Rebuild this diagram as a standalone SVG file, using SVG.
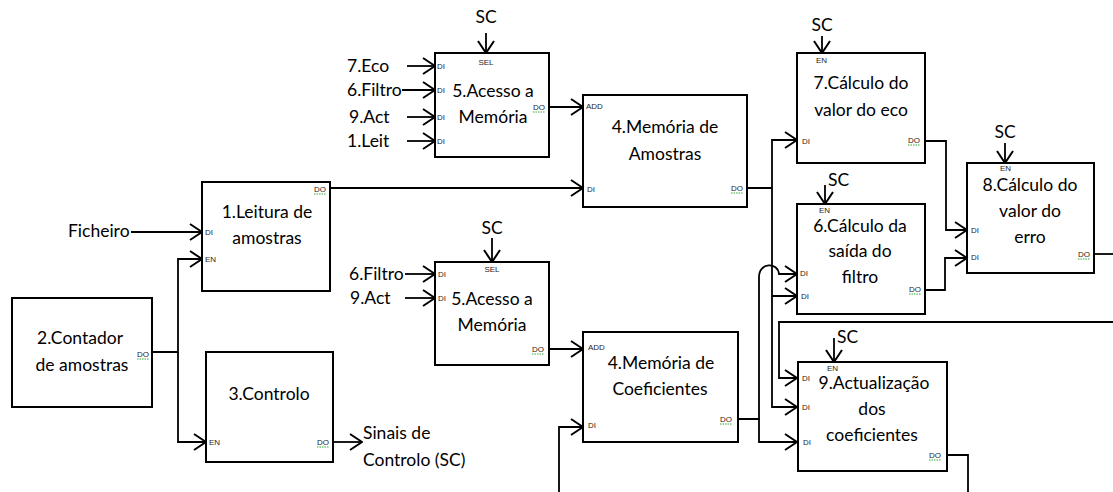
<svg xmlns="http://www.w3.org/2000/svg" width="1113" height="492" viewBox="0 0 1113 492">
<style>
.box{fill:#fff;stroke:#000;stroke-width:2}
.t{font-family:Lato,"Liberation Sans",sans-serif;font-size:17.5px;fill:#000;text-anchor:middle}
.tl{font-family:Lato,"Liberation Sans",sans-serif;font-size:17.5px;fill:#000}
.p{font-family:"Liberation Sans",Arial,sans-serif;font-size:8px;fill:#2a1a1a}
.sq{stroke:#3a3;stroke-width:1;stroke-dasharray:1.5 1;fill:none}
.w{fill:none;stroke:#000;stroke-width:1.8}
.a{marker-end:url(#arr)}
</style>
<defs>
<marker id="arr" markerUnits="userSpaceOnUse" markerWidth="14" markerHeight="18" viewBox="0 0 14 18" refX="13" refY="9" orient="auto">
<path d="M1,1 L13,9 L1,17" fill="none" stroke="#000" stroke-width="2"/>
</marker>
</defs>
<rect width="1113" height="492" fill="#fff"/>
<g id="connectors">
<path class="w a" d="M407,66 H435"/>
<path class="w a" d="M402,90 H435"/>
<path class="w a" d="M407,117 H435"/>
<path class="w a" d="M407,141 H435"/>
<path class="w a" d="M486,33 V53"/>
<path class="w a" d="M549,107 H583"/>
<path class="w a" d="M330,188 H583"/>
<path class="w a" d="M131,232 H202"/>
<path class="w a" d="M152,352 H178 V259 H202"/>
<path class="w a" d="M178,352 V442 H206"/>
<path class="w a" d="M333,442 H362"/>
<path class="w a" d="M492,238 V262"/>
<path class="w a" d="M405,274 H435"/>
<path class="w a" d="M405,298 H435"/>
<path class="w a" d="M549,349 H583"/>
<path class="w a" d="M559,492 V427 H583"/>
<path class="w a" d="M738,419 H759 V442 H797"/>
<path class="w a" d="M759,419 V277 C759,262 778,262 779,274 H797"/>
<path class="w a" d="M747,188 H772 V140 H797"/>
<path class="w a" d="M772,188 V296 H797"/>
<path class="w a" d="M772,296 V407 H797"/>
<path class="w a" d="M1113,322 H779 V378 H797"/>
<path class="w a" d="M822,36 V53"/>
<path class="w a" d="M1005,143 V163"/>
<path class="w a" d="M825,185 V204"/>
<path class="w a" d="M834,338 V362"/>
<path class="w a" d="M925,141 H946 V230 H967"/>
<path class="w a" d="M925,290 H945 V258 H967"/>
<path class="w" d="M1094,254 H1113"/>
<path class="w" d="M947,455 H968 V492"/>
</g>
<g id="sc-labels">
<text class="t" x="486" y="23">SC</text>
<text class="t" x="492" y="234">SC</text>
<text class="t" x="822" y="31">SC</text>
<text class="t" x="1005" y="138">SC</text>
<text class="tl" x="828" y="186">SC</text>
<text class="tl" x="837" y="343">SC</text>
<text class="tl" x="347" y="72">7.Eco</text>
<text class="tl" x="347" y="96">6.Filtro</text>
<text class="tl" x="349" y="123">9.Act</text>
<text class="tl" x="347" y="147">1.Leit</text>
<text class="tl" x="349" y="280">6.Filtro</text>
<text class="tl" x="350" y="304">9.Act</text>
<text class="tl" x="68" y="237">Ficheiro</text>
<text class="tl" x="363" y="439">Sinais de</text>
<text class="tl" x="363" y="466">Controlo (SC)</text>
</g>
<g id="n5a">
<rect class="box" x="435" y="53" width="114" height="104"/>
<text class="t" x="493" y="97">5.Acesso a</text>
<text class="t" x="493" y="123">Memória</text>
<text class="p" x="486" y="65" text-anchor="middle">SEL</text>
<text class="p" x="437" y="69">DI</text><text class="p" x="437" y="93">DI</text><text class="p" x="437" y="120">DI</text><text class="p" x="437" y="144">DI</text>
<text class="p" x="533" y="110">DO</text><path class="sq" d="M533,112 H545"/>
</g>
<g id="n4a">
<rect class="box" x="583" y="95" width="164" height="112"/>
<text class="t" x="665" y="133">4.Memória de</text>
<text class="t" x="665" y="160">Amostras</text>
<text class="p" x="586" y="109">ADD</text>
<text class="p" x="587" y="192">DI</text>
<text class="p" x="731" y="191">DO</text><path class="sq" d="M731,193 H743"/>
</g>
<g id="n1">
<rect class="box" x="202" y="182" width="128" height="109"/>
<text class="t" x="267" y="218">1.Leitura de</text>
<text class="t" x="267" y="244">amostras</text>
<text class="p" x="314" y="192">DO</text><path class="sq" d="M314,194 H326"/>
<text class="p" x="205" y="235">DI</text>
<text class="p" x="205" y="262">EN</text>
</g>
<g id="n2">
<rect class="box" x="12" y="298" width="140" height="109"/>
<text class="t" x="80" y="344">2.Contador</text>
<text class="t" x="82" y="371">de amostras</text>
<text class="p" x="137" y="357">DO</text><path class="sq" d="M137,359 H149"/>
</g>
<g id="n3">
<rect class="box" x="206" y="352" width="127" height="110"/>
<text class="t" x="269" y="400">3.Controlo</text>
<text class="p" x="209" y="445">EN</text>
<text class="p" x="317" y="445">DO</text><path class="sq" d="M317,447 H329"/>
</g>
<g id="n5b">
<rect class="box" x="435" y="262" width="114" height="103"/>
<text class="t" x="492" y="305">5.Acesso a</text>
<text class="t" x="492" y="331">Memória</text>
<text class="p" x="492" y="272" text-anchor="middle">SEL</text>
<text class="p" x="438" y="277">DI</text><text class="p" x="438" y="301">DI</text>
<text class="p" x="532" y="352">DO</text><path class="sq" d="M532,354 H544"/>
</g>
<g id="n4c">
<rect class="box" x="583" y="332" width="155" height="110"/>
<text class="t" x="661" y="369">4.Memória de</text>
<text class="t" x="660" y="395">Coeficientes</text>
<text class="p" x="588" y="350">ADD</text>
<text class="p" x="588" y="428">DI</text>
<text class="p" x="720" y="422">DO</text><path class="sq" d="M720,424 H732"/>
</g>
<g id="n7">
<rect class="box" x="797" y="53" width="128" height="110"/>
<text class="t" x="861" y="89">7.Cálculo do</text>
<text class="t" x="861" y="116">valor do eco</text>
<text class="p" x="816" y="63">EN</text>
<text class="p" x="802" y="144">DI</text>
<text class="p" x="908" y="143">DO</text><path class="sq" d="M908,145 H920"/>
</g>
<g id="n8">
<rect class="box" x="967" y="163" width="127" height="110"/>
<text class="t" x="1030" y="191">8.Cálculo do</text>
<text class="t" x="1030" y="217">valor do</text>
<text class="t" x="1030" y="243">erro</text>
<text class="p" x="1000" y="171">EN</text>
<text class="p" x="971" y="233">DI</text><text class="p" x="971" y="260">DI</text>
<text class="p" x="1078" y="257">DO</text><path class="sq" d="M1078,259 H1090"/>
</g>
<g id="n6">
<rect class="box" x="797" y="204" width="128" height="110"/>
<text class="t" x="860" y="232">6.Cálculo da</text>
<text class="t" x="860" y="257">saída do</text>
<text class="t" x="860" y="283">filtro</text>
<text class="p" x="819" y="213">EN</text>
<text class="p" x="800" y="276">DI</text><text class="p" x="801" y="299">DI</text>
<text class="p" x="909" y="292">DO</text><path class="sq" d="M909,294 H921"/>
</g>
<g id="n9">
<rect class="box" x="798" y="362" width="149" height="109"/>
<text class="t" x="874" y="389">9.Actualização</text>
<text class="t" x="872" y="415">dos</text>
<text class="t" x="872" y="441">coeficientes</text>
<text class="p" x="827" y="371">EN</text>
<text class="p" x="802" y="381">DI</text><text class="p" x="802" y="410">DI</text><text class="p" x="803" y="445">DI</text>
<text class="p" x="929" y="458">DO</text><path class="sq" d="M929,460 H941"/>
</g>
</svg>
